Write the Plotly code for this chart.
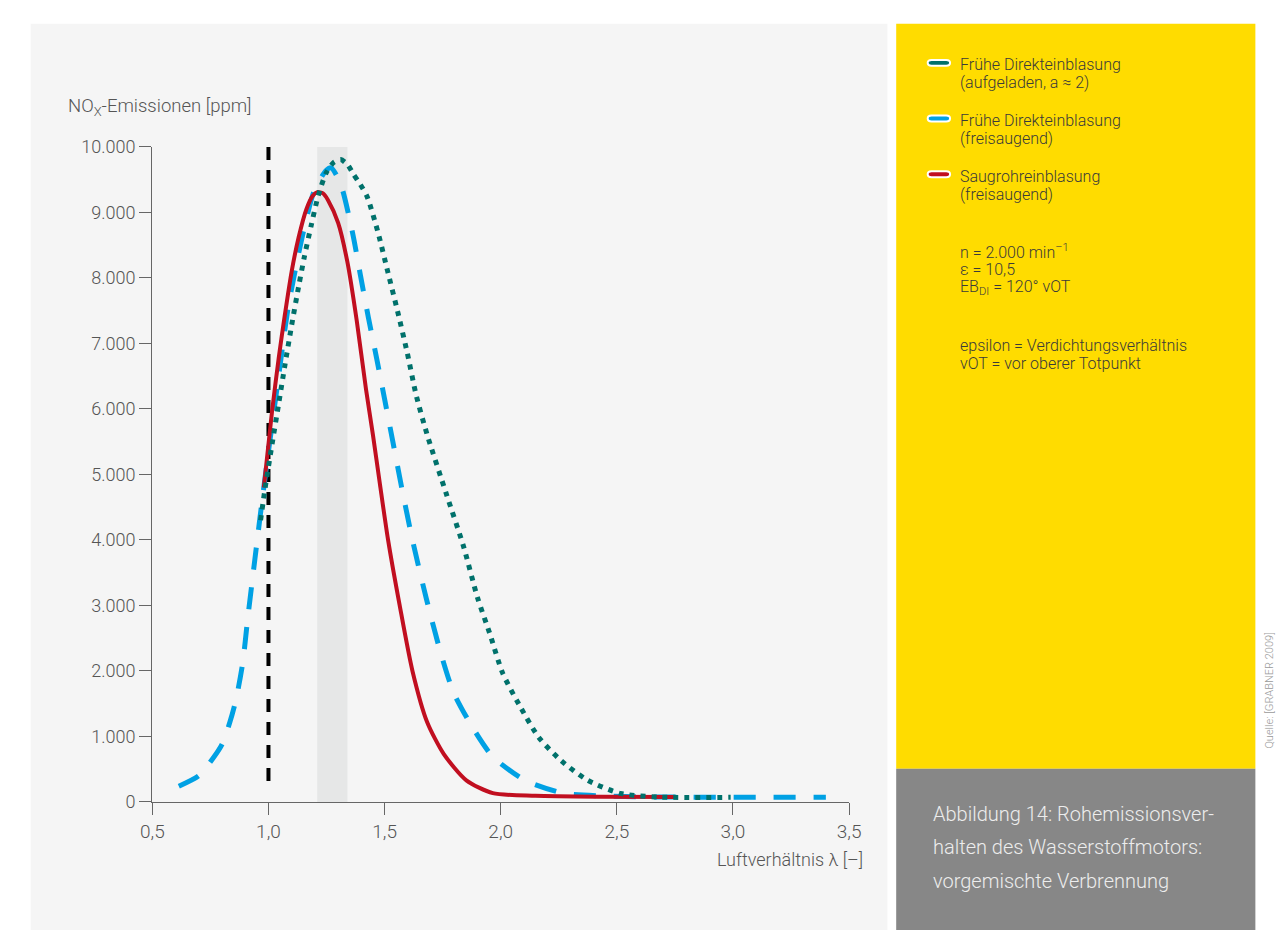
import plotly.graph_objects as go

# ---- data -------------------------------------------------------------
# Saugrohreinblasung (freisaugend)
lam_pfi = [0.98, 1.015, 1.045, 1.07, 1.10, 1.13, 1.163, 1.19, 1.21, 1.235, 1.256,
           1.30, 1.34, 1.38, 1.42, 1.45, 1.48, 1.515, 1.565, 1.62, 1.683, 1.755,
           1.852, 1.966, 2.15, 2.43, 2.75]
nox_pfi = [4800, 5950, 6800, 7420, 8100, 8620, 9045, 9250, 9310, 9290, 9190,
           8840, 8240, 7350, 6300, 5600, 4850, 4000, 3000, 2000, 1220, 730,
           330, 134, 95, 80, 75]

# Frühe Direkteinblasung (freisaugend)
lam_di = [0.614, 0.70, 0.7535, 0.80, 0.834, 0.86, 0.889, 0.91, 0.93, 0.952, 0.973,
          1.00, 1.04, 1.085, 1.145, 1.197, 1.248, 1.27, 1.311, 1.362, 1.396, 1.43,
          1.467, 1.50, 1.535, 1.573, 1.62, 1.68, 1.742, 1.797, 1.88, 1.966, 2.105,
          2.275, 2.46, 2.7, 3.0, 3.4]
nox_di = [240, 400, 630, 880, 1220, 1560, 2120, 2780, 3370, 4010, 4610,
          5350, 6400, 7550, 8620, 9330, 9640, 9680, 9430, 8690, 8040, 7400,
          6750, 6150, 5510, 4810, 4000, 3100, 2270, 1670, 1130, 690, 330,
          130, 90, 75, 70, 70]

# Frühe Direkteinblasung (aufgeladen, a ≈ 2)
lam_di_tc = [0.966, 0.986, 1.015, 1.045, 1.07, 1.10, 1.13, 1.155, 1.184, 1.214,
             1.248, 1.28, 1.311, 1.34, 1.366, 1.395, 1.425, 1.472, 1.514, 1.556,
             1.598, 1.636, 1.683, 1.767, 1.84, 1.90, 1.953, 2.008, 2.08, 2.164,
             2.26, 2.375, 2.515, 2.68, 2.99]
nox_di_tc = [4300, 4800, 5450, 6100, 6650, 7280, 7870, 8330, 8800, 9250,
             9600, 9760, 9806, 9730, 9582, 9430, 9240, 8690, 8090, 7490,
             6850, 6210, 5610, 4690, 3900, 3120, 2570, 1970, 1480, 985,
             630, 330, 130, 75, 70]

# stoichiometric reference line and highlighted lambda window
lam_stoich = [1.0, 1.0]
nox_stoich = [10000, 200]
band_lam = [1.21, 1.34]

x_ticks = [0.5, 1.0, 1.5, 2.0, 2.5, 3.0, 3.5]
x_ticktext = ["0,5", "1,0", "1,5", "2,0", "2,5", "3,0", "3,5"]
y_ticks = [0, 1000, 2000, 3000, 4000, 5000, 6000, 7000, 8000, 9000, 10000]
y_ticktext = ["0", "1.000", "2.000", "3.000", "4.000", "5.000", "6.000",
              "7.000", "8.000", "9.000", "10.000"]

series_names = [["Frühe Direkteinblasung", "(aufgeladen, a ≈ 2)"],
                ["Frühe Direkteinblasung", "(freisaugend)"],
                ["Saugrohreinblasung", "(freisaugend)"]]
series_colors = ["#00716b", "#00a1e4", "#c10f20"]

notes_1 = ["n = 2.000 min<sup>–1</sup>", "ε = 10,5", "EB<sub>DI</sub> = 120° vOT"]
notes_2 = ["epsilon = Verdichtungsverhältnis", "vOT = vor oberer Totpunkt"]
caption = ["Abbildung 14: Rohemissionsver-", "halten des Wasserstoffmotors:",
           "vorgemischte Verbrennung"]
source = "Quelle: [GRABNER 2009]"

# ---- page geometry (pixels) ---------------------------------------------
W, H = 1287, 940
FONT = "Roboto"


def px(x):
    return x / W


def py(y):
    return 1 - y / H


fig = go.Figure()

fig.add_trace(go.Scatter(
    x=lam_stoich, y=nox_stoich, mode="lines",
    line=dict(color="#000000", width=4, dash="13px,10px"),
    hoverinfo="skip", showlegend=False))
fig.add_trace(go.Scatter(
    x=lam_di, y=nox_di, mode="lines", name=" ".join(series_names[1]),
    line=dict(color=series_colors[1], width=5, dash="22px,18px",
              shape="spline", smoothing=0.7),
    showlegend=False))
fig.add_trace(go.Scatter(
    x=lam_pfi, y=nox_pfi, mode="lines", name=" ".join(series_names[2]),
    line=dict(color=series_colors[2], width=4, shape="spline", smoothing=0.7),
    showlegend=False))
fig.add_trace(go.Scatter(
    x=lam_di_tc, y=nox_di_tc, mode="lines", name=" ".join(series_names[0]),
    line=dict(color=series_colors[0], width=5, dash="5px,6px",
              shape="spline", smoothing=0.7),
    showlegend=False))

shapes = [
    # chart panel
    dict(type="rect", xref="paper", yref="paper", x0=px(19), x1=px(892),
         y0=py(940), y1=py(13), fillcolor="#f5f5f5", line=dict(width=0),
         layer="below"),
    # legend panel
    dict(type="rect", xref="paper", yref="paper", x0=px(901), x1=px(1267),
         y0=py(775), y1=py(13), fillcolor="#ffdc00", line=dict(width=0),
         layer="below"),
    # caption panel
    dict(type="rect", xref="paper", yref="paper", x0=px(901), x1=px(1267),
         y0=py(940), y1=py(775), fillcolor="#878787", line=dict(width=0),
         layer="below"),
    # highlighted lambda window
    dict(type="rect", xref="x", yref="y", x0=band_lam[0], x1=band_lam[1],
         y0=0, y1=10000, fillcolor="#e6e7e7", line=dict(width=0),
         layer="below"),
]


def pill(x0, x1, yc, h, color):
    r = h / 2
    ya, yb = yc - r, yc + r
    path = (f"M {px(x0 + r)},{py(ya)} L {px(x1 - r)},{py(ya)} "
            f"Q {px(x1 + r * 0.3)},{py(ya)} {px(x1 + r * 0.3)},{py(yc)} "
            f"Q {px(x1 + r * 0.3)},{py(yb)} {px(x1 - r)},{py(yb)} "
            f"L {px(x0 + r)},{py(yb)} "
            f"Q {px(x0 - r * 0.3)},{py(yb)} {px(x0 - r * 0.3)},{py(yc)} "
            f"Q {px(x0 - r * 0.3)},{py(ya)} {px(x0 + r)},{py(ya)} Z")
    return dict(type="path", xref="paper", yref="paper", path=path,
                fillcolor=color, line=dict(color="#ffffff", width=2))


def label(txt, x, y, size, color, anchor="left", angle=0):
    return dict(text=txt, xref="paper", yref="paper", x=px(x), y=py(y),
                xanchor=anchor, yanchor="middle", showarrow=False,
                textangle=angle,
                font=dict(family=FONT, size=size, color=color, weight=300))


annotations = []
legend_rows = [55, 112, 169]
for (l1, l2), col, yc in zip(series_names, series_colors, legend_rows):
    shapes.append(pill(934, 955, yc - 2, 6, col))
    annotations.append(label(l1, 964, yc, 16, "#3a3a3a"))
    annotations.append(label(l2, 964, yc + 18.5, 16, "#3a3a3a"))

for i, txt in enumerate(notes_1):
    annotations.append(label(txt, 964, 246 + 18.5 * i, 16, "#3a3a3a"))
for i, txt in enumerate(notes_2):
    annotations.append(label(txt, 964, 342 + 18.5 * i, 16, "#3a3a3a"))

for i, txt in enumerate(caption):
    annotations.append(label(txt, 936, 821 + 34.5 * i, 20, "#ededed"))

annotations.append(label(source, 1281, 695, 11, "#9a9a9a",
                         anchor="center", angle=-90))

# axis titles
annotations.append(label("NO<sub>X</sub>-Emissionen [ppm]", 55, 98, 18.5,
                         "#555555"))
annotations.append(label("Luftverhältnis λ [–]", 869, 868, 18, "#555555",
                         anchor="right"))

axis_common = dict(
    showline=True, linecolor="#666666", linewidth=1.3,
    ticks="outside", ticklen=12, tickwidth=1.3, tickcolor="#666666",
    showgrid=False, zeroline=False)

fig.update_layout(
    width=W, height=H, autosize=False,
    margin=dict(l=0, r=0, t=0, b=0, pad=0),
    paper_bgcolor="#ffffff", plot_bgcolor="rgba(0,0,0,0)",
    xaxis=dict(domain=[px(143), px(853)], range=[0.5, 3.5],
               tickvals=x_ticks, ticktext=x_ticktext,
               tickfont=dict(family=FONT, size=19, color="#555555", weight=300),
               **axis_common),
    yaxis=dict(domain=[py(809), py(139)], range=[0, 10000],
               tickvals=y_ticks, ticktext=y_ticktext,
               tickfont=dict(family=FONT, size=18, color="#555555", weight=300),
               **axis_common),
    shapes=shapes, annotations=annotations,
    showlegend=False, hovermode=False,
)

fig.write_html("out.html")
